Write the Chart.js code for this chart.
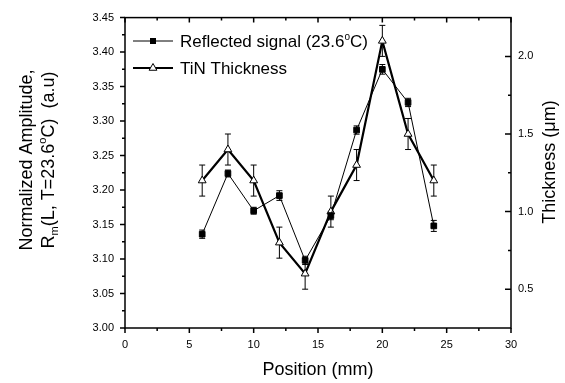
<!DOCTYPE html>
<html>
<head>
<meta charset="utf-8">
<script src="https://cdn.jsdelivr.net/npm/chart.js@4.4.1/dist/chart.umd.min.js"></script>
<style>
  html, body { margin: 0; padding: 0; background: #fff; }
  #wrap { width: 565px; height: 383px; }
</style>
</head>
<body>
<div id="wrap"><canvas id="grafica" width="565" height="383"></canvas></div>
<script>
// =========================
// DATA
// =========================
const positions = [6, 8, 10, 12, 14, 16, 18, 20, 22, 24];
const reflected = [3.136, 3.224, 3.170, 3.192, 3.098, 3.163, 3.287, 3.375, 3.327, 3.148];
const reflectedErr = [0.006, 0.005, 0.005, 0.007, 0.006, 0.006, 0.006, 0.007, 0.006, 0.008];
const thickness = [1.2, 1.4, 1.2, 0.8, 0.6, 1.0, 1.3, 2.1, 1.5, 1.2];
const thicknessErr = [0.1, 0.1, 0.1, 0.1, 0.1, 0.1, 0.1, 0.1, 0.1, 0.1];

const xTicks = [0, 5, 10, 15, 20, 25, 30];
const leftTicks = [3.0, 3.05, 3.1, 3.15, 3.2, 3.25, 3.3, 3.35, 3.4, 3.45];
const rightTicks = [0.5, 1.0, 1.5, 2.0];

const FONT = "'Liberation Sans', Arial, Helvetica, sans-serif";

// =========================
// HELPERS
// =========================
// draws a run of text pieces (for sub/superscripts), centred or left aligned
function drawRich(ctx, pieces, x, y, align) {
  let total = 0;
  pieces.forEach((p) => {
    ctx.font = p.size + "px " + FONT;
    p.w = ctx.measureText(p.t).width;
    total += p.w;
  });
  let cx = align === "center" ? x - total / 2 : x;
  ctx.textAlign = "left";
  ctx.textBaseline = "alphabetic";
  pieces.forEach((p) => {
    ctx.font = p.size + "px " + FONT;
    ctx.fillText(p.t, cx, y + (p.dy || 0));
    cx += p.w;
  });
}

function triangle(ctx, x, y, r) {
  ctx.beginPath();
  let rad = 0;
  for (let i = 0; i < 3; i++) {
    const px = x + Math.sin(rad) * r;
    const py = y - Math.cos(rad) * r;
    if (i === 0) ctx.moveTo(px, py);
    else ctx.lineTo(px, py);
    rad += (2 * Math.PI) / 3;
  }
  ctx.closePath();
}

// =========================
// PLUGINS
// =========================
const frameAndTicks = {
  id: "frameAndTicks",
  beforeDatasetsDraw(chart) {
    const { ctx, chartArea: a, scales } = chart;
    ctx.save();
    ctx.strokeStyle = "#000";
    ctx.lineWidth = 1.5;
    ctx.strokeRect(a.left, a.top, a.right - a.left, a.bottom - a.top);

    ctx.beginPath();
    // bottom (outward) + top (inward)
    for (let v = 0; v <= 30.001; v += 2.5) {
      const px = scales.x.getPixelForValue(v);
      const len = Math.abs(v % 5) < 0.01 ? 5 : 3;
      ctx.moveTo(px, a.bottom);
      ctx.lineTo(px, a.bottom + len);
      ctx.moveTo(px, a.top);
      ctx.lineTo(px, a.top + len);
    }
    // left (outward)
    for (let v = 3.0; v <= 3.4501; v += 0.025) {
      const py = scales.y.getPixelForValue(v);
      const major = Math.abs(Math.round(v * 1000) % 50) < 1;
      ctx.moveTo(a.left, py);
      ctx.lineTo(a.left - (major ? 5 : 3), py);
    }
    // right (inward)
    for (let v = 0.5; v <= 2.0001; v += 0.25) {
      const py = scales.y2.getPixelForValue(v);
      const major = Math.abs(Math.round(v * 100) % 50) < 1;
      ctx.moveTo(a.right, py);
      ctx.lineTo(a.right - (major ? 6 : 3), py);
    }
    ctx.stroke();

    // error bars
    ctx.lineWidth = 1;
    const bars = [
      { axis: "y", vals: reflected, errs: reflectedErr },
      { axis: "y2", vals: thickness, errs: thicknessErr }
    ];
    bars.forEach((b) => {
      const sc = scales[b.axis];
      ctx.beginPath();
      positions.forEach((p, i) => {
        const px = scales.x.getPixelForValue(p);
        const top = sc.getPixelForValue(b.vals[i] + b.errs[i]);
        const bot = sc.getPixelForValue(b.vals[i] - b.errs[i]);
        ctx.moveTo(px, top);
        ctx.lineTo(px, bot);
        ctx.moveTo(px - 3, top);
        ctx.lineTo(px + 3, top);
        ctx.moveTo(px - 3, bot);
        ctx.lineTo(px + 3, bot);
      });
      ctx.stroke();
    });
    ctx.restore();
  }
};

const labelsAndLegend = {
  id: "labelsAndLegend",
  afterDraw(chart) {
    const { ctx, chartArea: a } = chart;
    ctx.save();
    ctx.fillStyle = "#000";
    ctx.strokeStyle = "#000";

    // x title
    drawRich(ctx, [{ t: "Position (mm)", size: 18 }], (a.left + a.right) / 2, 375, "center");

    // left title (two lines, rotated)
    const cy = 160;
    ctx.save();
    ctx.translate(32, cy);
    ctx.rotate(-Math.PI / 2);
    drawRich(ctx, [{ t: "Normalized Amplitude,", size: 18 }], 0, 0, "center");
    ctx.restore();

    ctx.save();
    ctx.translate(54, cy);
    ctx.rotate(-Math.PI / 2);
    drawRich(ctx, [
      { t: "R", size: 18 },
      { t: "m", size: 11, dy: 4 },
      { t: "(L, T=23.6", size: 18 },
      { t: "o", size: 11, dy: -8 },
      { t: "C)  (a.u)", size: 18 }
    ], 0, 0, "center");
    ctx.restore();

    // right title
    ctx.save();
    ctx.translate(555, 162);
    ctx.rotate(-Math.PI / 2);
    drawRich(ctx, [{ t: "Thickness (\u03bcm)", size: 18 }], 0, 0, "center");
    ctx.restore();

    // legend
    const lx0 = 133, lx1 = 173, mx = 153;
    ctx.lineWidth = 1;
    ctx.beginPath();
    ctx.moveTo(lx0, 41);
    ctx.lineTo(lx1, 41);
    ctx.stroke();
    ctx.fillRect(mx - 3, 38, 6, 6);
    drawRich(ctx, [
      { t: "Reflected signal (23.6", size: 17 },
      { t: "o", size: 10, dy: -7 },
      { t: "C)", size: 17 }
    ], 180, 47, "left");

    ctx.lineWidth = 2.2;
    ctx.beginPath();
    ctx.moveTo(lx0, 68);
    ctx.lineTo(lx1, 68);
    ctx.stroke();
    triangle(ctx, mx, 68, 4.5);
    ctx.fillStyle = "#fff";
    ctx.fill();
    ctx.lineWidth = 1;
    ctx.stroke();
    ctx.fillStyle = "#000";
    drawRich(ctx, [{ t: "TiN Thickness", size: 17 }], 180, 74, "left");

    ctx.restore();
  }
};

// =========================
// CHART
// =========================
const tickFont = { family: FONT, size: 11 };

new Chart(document.getElementById("grafica"), {
  type: "line",
  data: {
    datasets: [
      {
        label: "Reflected signal (23.6°C)",
        data: positions.map((p, i) => ({ x: p, y: reflected[i] })),
        yAxisID: "y",
        borderColor: "#000",
        borderWidth: 1,
        pointStyle: "rect",
        pointRadius: 4,
        pointBackgroundColor: "#000",
        pointBorderColor: "#000",
        pointBorderWidth: 1,
        tension: 0
      },
      {
        label: "TiN Thickness",
        data: positions.map((p, i) => ({ x: p, y: thickness[i] })),
        yAxisID: "y2",
        borderColor: "#000",
        borderWidth: 2.2,
        pointStyle: "triangle",
        pointRadius: 4.5,
        pointBackgroundColor: "#fff",
        pointBorderColor: "#000",
        pointBorderWidth: 1,
        tension: 0
      }
    ]
  },
  options: {
    responsive: false,
    devicePixelRatio: 1,
    animation: false,
    layout: { padding: { top: 14, left: 0, right: 0, bottom: 0 } },
    plugins: { legend: { display: false }, tooltip: { enabled: false } },
    scales: {
      x: {
        type: "linear",
        min: 0,
        max: 30,
        afterBuildTicks: (s) => { s.ticks = xTicks.map((v) => ({ value: v })); },
        afterFit: (s) => { s.height = 55; },
        grid: { display: false, drawTicks: false },
        border: { display: false },
        ticks: { font: tickFont, color: "#000", padding: 10, maxRotation: 0, autoSkip: false, callback: (v) => String(v) }
      },
      y: {
        position: "left",
        min: 3.0,
        max: 3.45,
        afterBuildTicks: (s) => { s.ticks = leftTicks.map((v) => ({ value: v })); },
        afterFit: (s) => { s.width = 125; },
        grid: { display: false, drawTicks: false },
        border: { display: false },
        ticks: { font: tickFont, color: "#000", padding: 11, autoSkip: false, callback: (v) => v.toFixed(2) }
      },
      y2: {
        position: "right",
        min: 0.25,
        max: 2.25,
        afterBuildTicks: (s) => { s.ticks = rightTicks.map((v) => ({ value: v })); },
        afterFit: (s) => { s.width = 54; },
        grid: { display: false, drawTicks: false },
        border: { display: false },
        ticks: { font: tickFont, color: "#000", padding: 7, autoSkip: false, callback: (v) => v.toFixed(1) }
      }
    }
  },
  plugins: [frameAndTicks, labelsAndLegend]
});
</script>
</body>
</html>
